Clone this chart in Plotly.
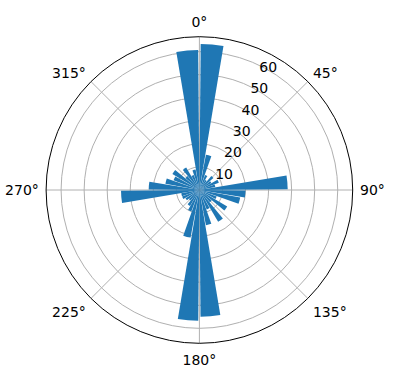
import plotly.graph_objects as go

# bin centers (degrees, clockwise from north) and counts
theta_deg = [5, 15, 25, 35, 45, 55, 65, 75, 85, 95, 105, 115,
             125, 135, 145, 155, 165, 175, 185, 195, 205, 215, 225, 235,
             245, 255, 265, 275, 285, 295, 305, 315, 325, 335, 345, 355]
counts = [63.3, 15.5, 7, 5, 8, 6, 9, 7, 38.3, 20, 18, 8,
          14, 7, 16, 9, 15.5, 55, 56.7, 21, 10, 8, 6, 7,
          8, 8, 34, 22, 15, 12, 13.6, 8, 11.3, 7, 9, 60.7]
bar_width_deg = 9
angle_ticks = [0, 45, 90, 135, 180, 225, 270, 315]
angle_labels = [f"{a}°" for a in angle_ticks]
radial_ticks = [10, 20, 30, 40, 50, 60]
r_max = 66.5

fig = go.Figure(go.Barpolar(
    theta=theta_deg, r=counts, width=[bar_width_deg] * len(counts),
    marker=dict(color="#1f77b4", line=dict(width=0)),
))

W, H = 396, 380
cx, cy, R = 199.4, 190.0, 153.3
fig.update_layout(
    width=W, height=H,
    margin=dict(l=0, r=0, t=0, b=0),
    paper_bgcolor="white", plot_bgcolor="white",
    font=dict(family="DejaVu Sans", size=14, color="black"),
    showlegend=False,
    polar=dict(
        domain=dict(x=[(cx - R) / W, (cx + R) / W], y=[1 - (cy + R) / H, 1 - (cy - R) / H]),
        bgcolor="white",
        bargap=0,
        angularaxis=dict(
            rotation=90, direction="clockwise",
            tickvals=angle_ticks, ticktext=angle_labels,
            ticks="outside", ticklen=4, tickcolor="rgba(0,0,0,0)",
            showline=True, linecolor="black", linewidth=1,
            showgrid=True, gridcolor="#b0b0b0", gridwidth=1.1,
        ),
        radialaxis=dict(
            range=[0, r_max], tickvals=radial_ticks,
            angle=67.5, tickangle=67.5, side="clockwise",
            showline=False, ticks="",
            showgrid=True, gridcolor="#b0b0b0", gridwidth=1.1,
        ),
    ),
)

fig.write_html("out.html")
